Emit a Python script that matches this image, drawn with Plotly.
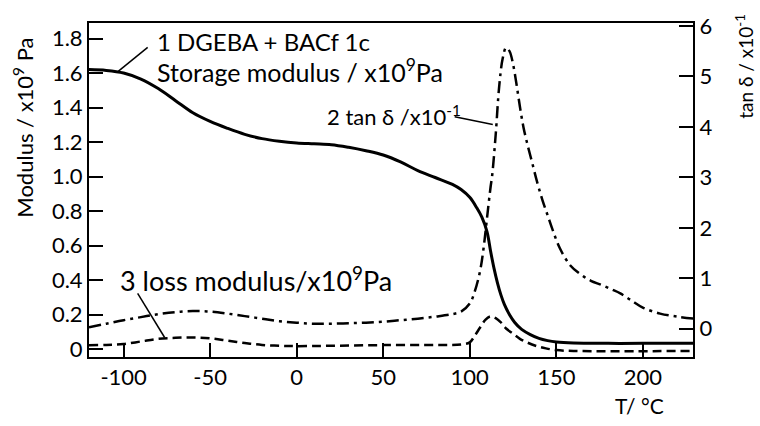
import plotly.graph_objects as go

# Storage modulus (curve 1), x10^9 Pa, left axis
T_storage = [-120, -110, -100, -90, -80, -70, -60, -50, -40, -30, -20, -10, 0, 10, 20, 30, 40, 50,
             60, 70, 80, 90, 95, 100, 104, 107, 110, 112, 114, 116, 118, 120, 123, 126, 130, 135,
             140, 145, 150, 160, 180, 200, 230]
E_storage = [1.62, 1.615, 1.60, 1.565, 1.51, 1.44, 1.37, 1.32, 1.28, 1.245, 1.22, 1.205, 1.195, 1.19,
             1.185, 1.17, 1.15, 1.125, 1.085, 1.035, 0.995, 0.955, 0.925, 0.88, 0.82, 0.765, 0.68,
             0.57, 0.47, 0.385, 0.315, 0.26, 0.2, 0.155, 0.115, 0.085, 0.063, 0.05, 0.042, 0.036,
             0.034, 0.034, 0.034]

# tan delta (curve 2), x10^-1, right axis
T_tan = [-120, -110, -100, -90, -80, -70, -60, -50, -40, -30, -20, -10, 0, 10, 20, 30, 40, 50, 60,
         70, 80, 90, 95, 100, 103, 106, 108, 110, 112, 113, 115, 117, 119, 121, 123, 125, 127, 129,
         131, 133, 136, 139, 142, 145, 148, 152, 158, 164, 170, 176, 182, 187, 193, 200, 210, 220, 230]
tan_d = [0.03, 0.1, 0.17, 0.23, 0.29, 0.33, 0.35, 0.34, 0.3, 0.25, 0.2, 0.15, 0.12, 0.1, 0.1, 0.11,
         0.12, 0.14, 0.17, 0.2, 0.24, 0.29, 0.34, 0.5, 0.75, 1.15, 1.6, 2.2, 2.8, 3.05, 3.85, 4.8,
         5.35, 5.57, 5.5, 5.25, 4.85, 4.4, 4.0, 3.7, 3.3, 2.9, 2.55, 2.25, 1.95, 1.6, 1.26, 1.08,
         0.95, 0.87, 0.78, 0.7, 0.57, 0.42, 0.3, 0.24, 0.2]

# Loss modulus (curve 3), x10^9 Pa, left axis
T_loss = [-120, -110, -100, -90, -80, -70, -60, -50, -40, -30, -20, -10, 0, 20, 50, 80, 95, 100,
          103, 106, 109, 112, 115, 118, 121, 125, 129, 133, 138, 144, 150, 160, 230]
E_loss = [0.023, 0.025, 0.03, 0.045, 0.06, 0.066, 0.068, 0.063, 0.05, 0.036, 0.025, 0.02, 0.018,
          0.02, 0.024, 0.025, 0.028, 0.04, 0.08, 0.126, 0.17, 0.19, 0.18, 0.155, 0.12, 0.09, 0.06,
          0.04, 0.02, 0.005, -0.005, -0.01, -0.01]

x_ticks = [-100, -50, 0, 50, 100, 150, 200]
x_ticktext = ["-100", "-50", "0", "50", "100", "150", "200"]
y_ticks = [0, 0.2, 0.4, 0.6, 0.8, 1.0, 1.2, 1.4, 1.6, 1.8]
y_ticktext = ["0", "0.2", "0.4", "0.6", "0.8", "1.0", "1.2", "1.4", "1.6", "1.8"]
y2_ticks = [0, 1, 2, 3, 4, 5, 6]

FONT = "Lato"
fig = go.Figure()
fig.add_trace(go.Scatter(x=T_storage, y=E_storage, mode="lines", line=dict(color="black", width=3, shape="spline")))
fig.add_trace(go.Scatter(x=T_tan, y=tan_d, mode="lines", yaxis="y2",
                         line=dict(color="black", width=2.5, shape="spline", dash="12px,5px,3px,5px")))
fig.add_trace(go.Scatter(x=T_loss, y=E_loss, mode="lines",
                         line=dict(color="black", width=2.5, shape="spline", dash="9px,5px")))

axis_common = dict(showgrid=False, zeroline=False, showline=True, linecolor="black", linewidth=2,
                   ticks="inside", ticklen=14, tickwidth=1.8, tickcolor="black",
                   tickfont=dict(family=FONT, size=22, color="black"))

fig.update_layout(
    width=760, height=426, margin=dict(l=89, r=67, t=15, b=69),
    paper_bgcolor="white", plot_bgcolor="white", showlegend=False,
    xaxis=dict(range=[-120, 229], tickvals=x_ticks, ticktext=x_ticktext, mirror=True, **axis_common),
    yaxis=dict(range=[-0.045, 1.89], tickvals=y_ticks, ticktext=y_ticktext, **axis_common),
    yaxis2=dict(range=[-0.56, 6.06], tickvals=y2_ticks, overlaying="y", side="right", **axis_common),
)

def f(size):
    return dict(family=FONT, size=size, color="black")

ann = [
    dict(x=-82, y=1.782, xref="x", yref="y", text="1 DGEBA + BACf 1c", xanchor="left", yanchor="middle", font=f(24)),
    dict(x=-82, y=1.612, xref="x", yref="y", text="Storage modulus / x10<sup>9</sup>Pa", xanchor="left",
         yanchor="middle", font=f(25)),
    dict(x=96, y=1.353, xref="x", yref="y", text="2 tan δ /x10<sup>-1</sup>", xanchor="right", yanchor="middle",
         font=f(22)),
    dict(x=-103.5, y=0.407, xref="x", yref="y", text="3 loss modulus/x10<sup>9</sup>Pa", xanchor="left",
         yanchor="middle", font=f(27)),
    dict(x=-0.109, y=0.687, xref="paper", yref="paper", text="Modulus / x10<sup>9</sup> Pa", textangle=-90,
         xanchor="center", yanchor="middle", font=f(22)),
    dict(x=1.086, y=0.872, xref="paper", yref="paper", text="tan δ / x10<sup>-1</sup>", textangle=-90,
         xanchor="center", yanchor="middle", font=f(19)),
    dict(x=0.912, y=-0.146, xref="paper", yref="paper", text="T/ °C", xanchor="center", yanchor="middle",
         font=f(21)),
]
for a in ann:
    fig.add_annotation(showarrow=False, **a)

for (x0, y0, x1, y1) in [(-86.1, 1.749, -103.5, 1.607), (91.3, 1.347, 113.3, 1.302), (-91.9, 0.323, -76.3, 0.068)]:
    fig.add_shape(type="line", xref="x", yref="y", x0=x0, y0=y0, x1=x1, y1=y1,
                  line=dict(color="black", width=1.5))

fig.write_html("out.html")
